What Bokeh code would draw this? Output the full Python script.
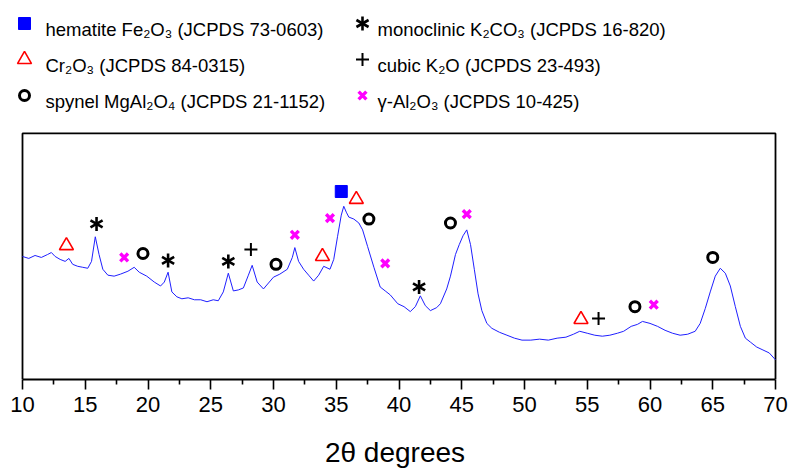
import math
from bokeh.plotting import figure
from bokeh.layouts import column
from bokeh.models import Range1d, FixedTicker
from bokeh.core.properties import value
from bokeh.embed import file_html
from bokeh.resources import INLINE

# ---------------- data ----------------
two_theta = [10.0, 10.5, 11.0, 11.5, 12.0, 12.3, 12.6, 13.0, 13.4, 13.7, 14.0, 14.4, 14.8, 15.2, 15.5,
             15.8, 16.1, 16.4, 16.8, 17.3, 17.8, 18.4, 18.9, 19.3, 19.9, 20.5, 21.0, 21.3, 21.6, 21.9,
             22.3, 22.7, 23.2, 23.7, 24.2, 24.7, 25.2, 25.6, 26.0, 26.4, 26.8, 27.2, 27.6, 28.0, 28.3,
             28.7, 29.2, 29.6, 30.0, 30.5, 31.1, 31.5, 31.7, 32.0, 32.4, 32.8, 33.2, 33.6, 34.0, 34.5,
             34.8, 35.1, 35.4, 35.6, 35.8, 36.0, 36.4, 36.8, 37.1, 37.5, 38.0, 38.5, 38.9, 39.3, 39.9,
             40.4, 40.9, 41.3, 41.7, 42.1, 42.5, 43.0, 43.3, 43.8, 44.1, 44.5, 44.8, 45.1, 45.4, 45.7,
             46.0, 46.3, 46.6, 47.0, 47.4, 48.0, 48.6, 49.2, 49.8, 50.5, 51.2, 51.9, 52.6, 53.3, 53.9,
             54.4, 55.0, 55.6, 56.2, 56.8, 57.4, 57.9, 58.5, 59.0, 59.4, 60.0, 60.6, 61.2, 61.8, 62.4,
             63.0, 63.6, 64.0, 64.4, 64.8, 65.2, 65.6, 66.0, 66.4, 66.8, 67.2, 67.6, 68.0, 68.5, 69.0,
             69.5, 70.0]
intensity = [125, 123, 126, 124, 127, 129, 125, 122, 120, 123, 117, 115, 114, 113, 120,
             145, 127, 112, 106, 105, 107, 110, 114, 109, 105, 99, 95, 99, 109, 89,
             84, 82, 83, 81, 81, 79, 81, 80, 89, 108, 90, 91, 93, 106, 116,
             99, 92, 98, 104, 107, 112, 124, 134, 120, 112, 106, 100, 106, 115, 112,
             122, 145, 167, 176, 170, 165, 163, 159, 152, 135, 114, 94, 90, 86, 77,
             74, 69, 74, 85, 75, 70, 73, 77, 92, 105, 127, 137, 146, 152, 137,
             112, 87, 70, 57, 52, 48, 45, 42, 40, 40, 41, 40, 42, 43, 46,
             49, 47, 45, 44, 45, 47, 49, 54, 56, 59, 57, 54, 50, 47, 45,
             46, 49, 57, 72, 89, 105, 113, 108, 95, 74, 54, 42, 38, 33, 30,
             27, 20]

# peak markers (2-theta, intensity level of the symbol)
hematite_x = [35.4]
hematite_y = [191]
cr2o3_x = [13.5, 33.9, 36.6, 54.5]
cr2o3_y = [136, 125, 183, 61]
spinel_x = [19.6, 30.2, 37.6, 44.1, 58.8, 65.0]
spinel_y = [128, 117, 163, 159, 74, 124]
k2co3_x = [15.9, 21.6, 26.4, 41.6]
k2co3_y = [158, 121, 120, 94]
k2o_x = [28.2, 55.9]
k2o_y = [132, 62]
al2o3_x = [18.1, 31.7, 34.5, 38.9, 45.4, 60.3]
al2o3_y = [124, 147, 164, 118, 168, 76]

legend_col1 = ["hematite Fe\u2082O\u2083 (JCPDS 73-0603)",
               "Cr\u2082O\u2083 (JCPDS 84-0315)",
               "spynel MgAl\u2082O\u2084 (JCPDS 21-1152)"]
legend_col2 = ["monoclinic K\u2082CO\u2083 (JCPDS 16-820)",
               "cubic K\u2082O (JCPDS 23-493)",
               "\u03b3-Al\u2082O\u2083 (JCPDS 10-425)"]

x_ticks = [10, 15, 20, 25, 30, 35, 40, 45, 50, 55, 60, 65, 70]
x_label = "2\u03b8 degrees"
X_MIN, X_MAX = 10, 70
Y_TOP = 250

FONT = "Liberation Sans"

# marker styles: (marker, size, fill colour, line colour, line width)
styles = {
    "hematite": ("square", 12, "#0000ff", "#0000ff", 1),
    "cr2o3": ("triangle", 14, None, "#ff0000", 1.6),
    "spinel": ("circle", 10, None, "black", 3),
    "k2o": ("cross", 13, None, "black", 2),
    "al2o3": ("x", 11, None, "#ff00ff", 3.4),
}


def draw(fig, key, xs, ys):
    if key == "k2co3":
        # six-armed asterisk built from three rotated dashes
        for ang in (math.pi / 2, math.pi / 6, -math.pi / 6):
            fig.scatter(xs, ys, marker="dash", size=14, angle=ang,
                        line_color="black", line_width=2.6)
        return
    m, s, f, lc, lw = styles[key]
    fig.scatter(xs, ys, marker=m, size=s,
                fill_color=f, fill_alpha=1 if f else 0,
                line_color=lc, line_width=lw)


W = 789
LEG_H = 128
PLOT_L, PLOT_R = 22, 775          # pixel edges of the plotting box

# ---------------- legend panel (pixel coordinates) ----------------
leg = figure(width=W, height=LEG_H, x_range=Range1d(0, W), y_range=Range1d(LEG_H, 0),
             toolbar_location=None, output_backend="svg",
             x_axis_location=None, y_axis_location=None,
             min_border_left=0, min_border_right=0, min_border_top=0, min_border_bottom=0,
             outline_line_color=None)
leg.grid.visible = False

row_base = [29, 65, 101]
col1_keys = ["hematite", "cr2o3", "spinel"]
col2_keys = ["k2co3", "k2o", "al2o3"]
for i in range(3):
    draw(leg, col1_keys[i], [24], [row_base[i] - 6])
    draw(leg, col2_keys[i], [362], [row_base[i] - 6])
leg.text(x=[45] * 3, y=row_base, text=legend_col1, text_font=value(FONT),
         text_font_size="18.5px", text_baseline="alphabetic", text_color="black")
leg.text(x=[377] * 3, y=row_base, text=legend_col2, text_font=value(FONT),
         text_font_size="18.5px", text_baseline="alphabetic", text_color="black")

# ---------------- main XRD plot ----------------
MAIN_H = 470 - LEG_H
BOTTOM = 87
frame_h = MAIN_H - BOTTOM                       # 255 px, 1 unit per px
kx = (PLOT_R - PLOT_L) / (X_MAX - X_MIN)        # px per degree
xr = Range1d(X_MIN - PLOT_L / kx, X_MAX + (W - PLOT_R) / kx)
yr = Range1d(0, frame_h)

p = figure(width=W, height=MAIN_H, x_range=xr, y_range=yr,
           toolbar_location=None, output_backend="svg",
           y_axis_location=None,
           min_border_left=0, min_border_right=0, min_border_top=0, min_border_bottom=BOTTOM,
           outline_line_color=None)
p.grid.visible = False

# plotting box (left, top, right sides; the x axis forms the bottom)
p.line([X_MIN, X_MIN, X_MAX, X_MAX], [0, Y_TOP, Y_TOP, 0], line_color="black", line_width=1.8)

p.line(two_theta, intensity, line_color="#1f1fff", line_width=1)

draw(p, "hematite", hematite_x, hematite_y)
draw(p, "cr2o3", cr2o3_x, cr2o3_y)
draw(p, "spinel", spinel_x, spinel_y)
draw(p, "k2co3", k2co3_x, k2co3_y)
draw(p, "k2o", k2o_x, k2o_y)
draw(p, "al2o3", al2o3_x, al2o3_y)

ax = p.xaxis[0]
ax.bounds = (X_MIN, X_MAX)
ax.ticker = FixedTicker(ticks=x_ticks,
                        minor_ticks=[t + 2.5 for t in x_ticks[:-1]])
ax.axis_label = x_label
ax.axis_label_text_font = FONT
ax.axis_label_text_font_size = "28px"
ax.axis_label_text_font_style = "normal"
ax.axis_label_text_color = "black"
ax.axis_label_standoff = 22
ax.major_label_text_font = FONT
ax.major_label_text_font_size = "22px"
ax.major_label_text_color = "black"
ax.major_label_standoff = 7
ax.axis_line_color = "black"
ax.axis_line_width = 1.8
ax.major_tick_line_color = "black"
ax.major_tick_line_width = 1.6
ax.minor_tick_line_color = "black"
ax.minor_tick_line_width = 1.6
ax.major_tick_in = 0
ax.major_tick_out = 10
ax.minor_tick_in = 0
ax.minor_tick_out = 5

layout = column(leg, p, spacing=0)
open("out.html", "w").write(file_html(layout, INLINE))
